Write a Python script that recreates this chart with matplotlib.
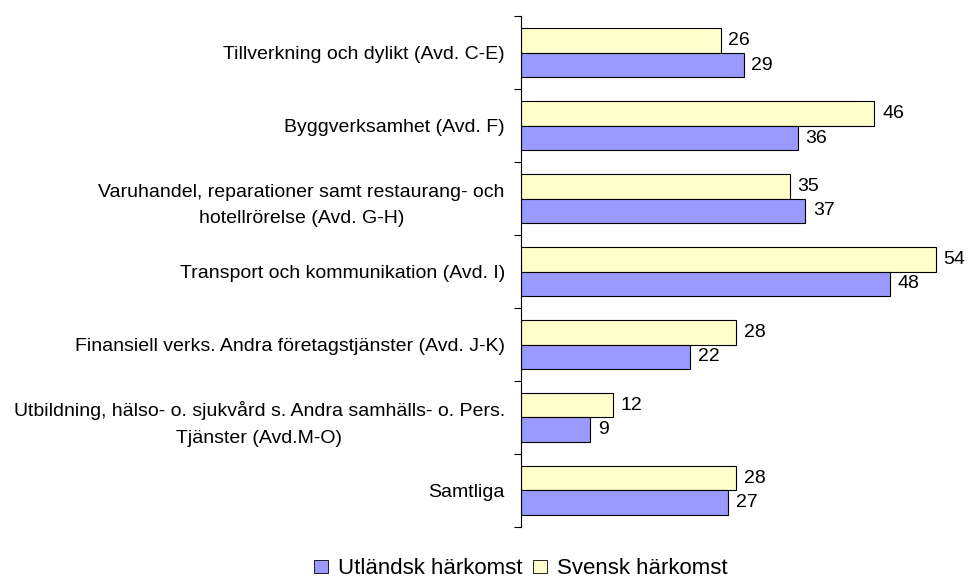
import numpy as np
import matplotlib.pyplot as plt
from matplotlib.patches import Patch

plt.rcParams['font.family'] = ['Liberation Sans', 'DejaVu Sans']

categories = ['Tillverkning och dylikt (Avd. C-E)',
              'Byggverksamhet (Avd. F)',
              'Varuhandel, reparationer samt restaurang- och\nhotellrörelse (Avd. G-H)',
              'Transport och kommunikation (Avd. I)',
              'Finansiell verks. Andra f\u00f6retagstj\u00e4nster (Avd. J-K)',
              'Utbildning, h\u00e4lso- o. sjukv\u00e5rd s. Andra samh\u00e4lls- o. Pers.\nTj\u00e4nster (Avd.M-O)',
              'Samtliga']
svensk = [26, 46, 35, 54, 28, 12, 28]
utlandsk = [29, 36, 37, 48, 22, 9, 27]

col_sv = '#FFFFCC'
col_ut = '#9999FF'

fig = plt.figure(figsize=(9.68, 5.79), dpi=100)
ax = fig.add_axes([0.538, 0.090, 0.44, 0.882])

y = np.arange(len(categories))
h = 0.34
b1 = ax.barh(y - h/2, svensk, height=h, color=col_sv, edgecolor='black', linewidth=0.8)
b2 = ax.barh(y + h/2, utlandsk, height=h, color=col_ut, edgecolor='black', linewidth=0.8)

for bars, vals in [(b1, svensk), (b2, utlandsk)]:
    for bar, v in zip(bars, vals):
        ax.text(v + 1.0, bar.get_y() + bar.get_height()/2, str(v),
                va='center', ha='left', fontsize=14)

ax.set_ylim(len(categories) - 0.5, -0.5)
ax.set_xlim(0, 55.4)
ax.set_yticks(y)
ax.set_yticklabels(categories, fontsize=14, multialignment='center', linespacing=1.7)
ax.tick_params(axis='y', which='major', length=0, pad=11.5)
ax.set_yticks(np.arange(-0.5, len(categories)), minor=True)
ax.tick_params(axis='y', which='minor', length=5, width=0.8, direction='out')
ax.set_xticks([])
for s in ['top', 'right', 'bottom']:
    ax.spines[s].set_visible(False)
ax.spines['left'].set_linewidth(0.8)

handles = [Patch(facecolor=col_ut, edgecolor='black', linewidth=0.6),
           Patch(facecolor=col_sv, edgecolor='black', linewidth=0.6)]
fig.legend(handles, ['Utl\u00e4ndsk h\u00e4rkomst', 'Svensk h\u00e4rkomst'],
           loc='center', bbox_to_anchor=(0.538, 0.018), ncol=2, frameon=False,
           fontsize=16, handlelength=0.6, handleheight=0.55, handletextpad=0.45,
           columnspacing=0.5)

fig.savefig('out.png', dpi=100)
